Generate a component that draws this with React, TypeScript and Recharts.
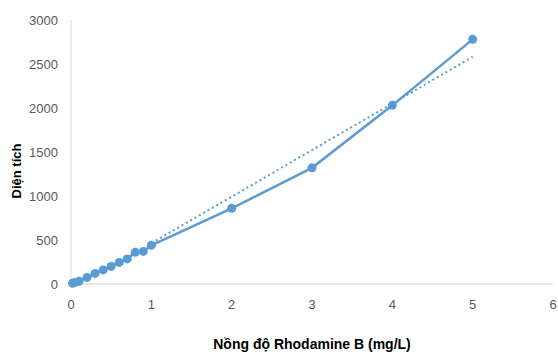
import React from 'react';
import { ComposedChart, Line, XAxis, YAxis, Label } from 'recharts';

// Nồng độ (mg/L) và diện tích pic đo được
const concentrations = [0.02, 0.05, 0.1, 0.2, 0.3, 0.4, 0.5, 0.6, 0.7, 0.8, 0.9, 1, 2, 3, 4, 5];
const areas = [8, 18, 30, 75, 120, 160, 200, 245, 285, 360, 370, 440, 860, 1320, 2030, 2780];

const xTicks = [0, 1, 2, 3, 4, 5, 6];
const yTicks = [0, 500, 1000, 1500, 2000, 2500, 3000];

const blue = '#5B9BD5';
const tickStyle = { fill: '#595959', fontSize: 13, fontFamily: 'Liberation Sans, Arial, sans-serif' };

const measured = concentrations.map((x, i) => ({ x, y: areas[i] }));

// least-squares linear trendline over the measured points
const n = measured.length;
const meanX = concentrations.reduce((s, v) => s + v, 0) / n;
const meanY = areas.reduce((s, v) => s + v, 0) / n;
const sxy = measured.reduce((s, p) => s + (p.x - meanX) * (p.y - meanY), 0);
const sxx = measured.reduce((s, p) => s + (p.x - meanX) ** 2, 0);
const slope = sxy / sxx;
const intercept = meanY - slope * meanX;
const trend = [1, 5].map((x) => ({ x, y: intercept + slope * x }));

const App = () => {
  return (
    <div style={{ position: 'absolute', left: 0, top: 0, background: '#fff' }}>
      <ComposedChart width={558} height={352} margin={{ top: 20, right: 5, bottom: 8, left: 0 }}>
        <XAxis
          type="number"
          dataKey="x"
          domain={[0, 6]}
          ticks={xTicks}
          tickLine={false}
          tickSize={0}
          tickMargin={16}
          height={60}
          stroke="#D0D0D0"
          tick={tickStyle}
        >
          <Label
            content={() => (
              <text
                x={312}
                y={349}
                textAnchor="middle"
                fontFamily="Liberation Sans, Arial, sans-serif"
                fontWeight="bold"
                fontSize={14}
                fill="#000"
              >
                Nồng độ Rhodamine  B (mg/L)
              </text>
            )}
          />
        </XAxis>
        <YAxis
          type="number"
          domain={[0, 3000]}
          ticks={yTicks}
          tickLine={false}
          tickSize={0}
          tickMargin={13}
          width={71}
          stroke="#D9D9D9"
          tick={tickStyle}
        >
          <Label
            content={() => (
              <text
                x={21}
                y={171}
                transform="rotate(-90 21 171)"
                textAnchor="middle"
                fontFamily="Liberation Sans, Arial, sans-serif"
                fontWeight="bold"
                fontSize={13}
                fill="#000"
              >
                Diện tích
              </text>
            )}
          />
        </YAxis>
        <Line
          data={trend}
          dataKey="y"
          stroke={blue}
          strokeWidth={2}
          strokeDasharray="2 3"
          dot={false}
          isAnimationActive={false}
        />
        <Line
          data={measured}
          dataKey="y"
          stroke={blue}
          strokeWidth={2.5}
          dot={{ r: 4.5, fill: blue, stroke: blue, strokeWidth: 0 }}
          isAnimationActive={false}
        />
      </ComposedChart>
    </div>
  );
};

export default App;
